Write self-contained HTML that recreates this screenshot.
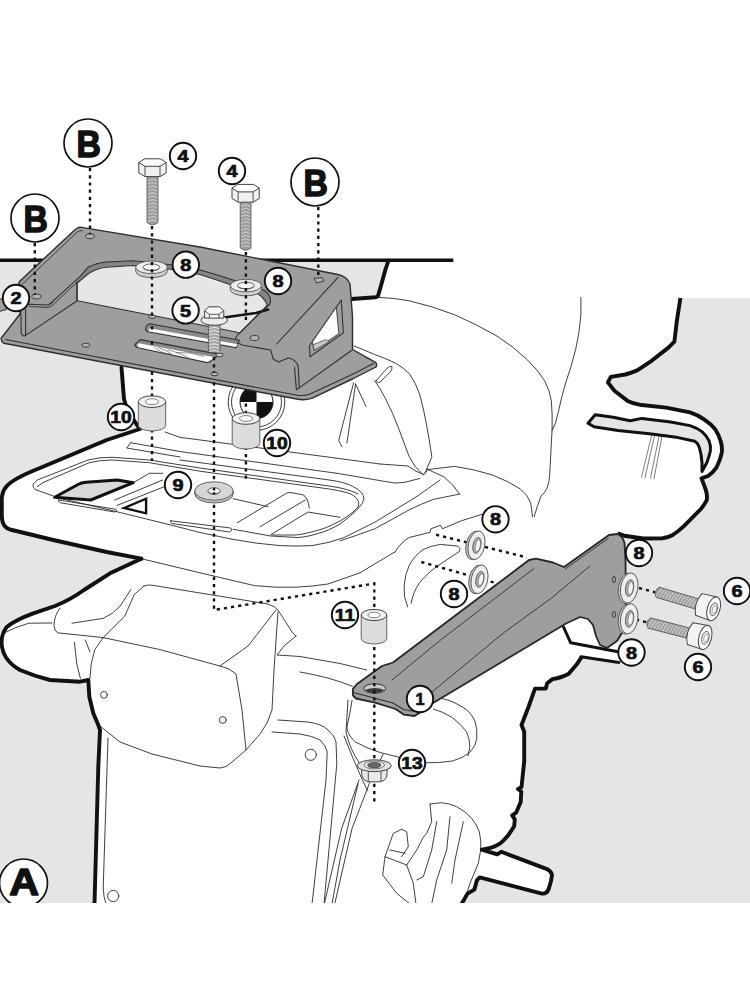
<!DOCTYPE html>
<html>
<head>
<meta charset="utf-8">
<title>Assembly diagram</title>
<style>
html,body{margin:0;padding:0;background:#fff;}
body{width:750px;height:1000px;overflow:hidden;font-family:"Liberation Sans",sans-serif;}
svg{display:block;position:absolute;left:0;top:0;}
.thk{fill:none;stroke:#111;stroke-width:3.9;stroke-linejoin:round;stroke-linecap:round;}
.thn{fill:none;stroke:#2a2a2a;stroke-width:0.9;stroke-linejoin:round;stroke-linecap:round;}
.med{fill:none;stroke:#1c1c1c;stroke-width:1.6;stroke-linejoin:round;stroke-linecap:round;}
.dot{fill:none;stroke:#111;stroke-width:2.4;stroke-dasharray:3.2 4;}
.lab circle{fill:#fff;stroke:#111;stroke-width:1.5;}
.lab text{font-family:"Liberation Sans",sans-serif;font-weight:bold;fill:#111;text-anchor:middle;}
.pl{fill:#8b8b8b;stroke:#303030;stroke-width:1.3;stroke-linejoin:round;}
.pln{fill:none;stroke:#303030;stroke-width:1.1;stroke-linejoin:round;stroke-linecap:round;}
</style>
</head>
<body>
<svg width="750" height="1000" viewBox="0 0 750 1000">
<defs>
<clipPath id="clipimg"><rect x="0" y="99" width="750" height="804"/></clipPath>
</defs>
<g clip-path="url(#clipimg)">

<!-- ===== GRAY BACKGROUND REGIONS ===== -->
<g id="bg">
<path fill="#e4e5e7" d="M0,260 L388.5,260 L385.3,270 Q381.5,284 378.3,295 Q377.8,297 375.5,297.3 L352,299 L270,310 L222,318 L121.5,367.5 L124,399 L127,409 L136,423.5 L140,429 L106.7,440 L40,468 Q12,479 6,487 Q1.8,492 1.8,500 L1.8,516 Q1.8,527 10,529.5 L53.3,540 L106.7,552 L141.3,558.7 L110,573.3 L84,590 Q70,600 55,606 L33.3,613.3 Q15,620 6.7,627 Q1.2,634 1.6,643.3 Q2,651 6,657.5 Q11,665 20,670 Q34,676 50,680 L80,681.7 L88.3,680 L89.3,696.7 L93.3,713.3 L98.3,725 L100,730 L98.3,766.7 L94.5,904 L0,904 Z"/>
<path fill="#e4e5e7" d="M680.4,298 L676.8,321.2 L674.4,341.6 L668.4,347.6 L651.6,360.8 L637.2,370.4 Q631,373 625.2,374.5 L610.8,376.9 L607.9,382.4 L614.4,390.8 L627.6,400.9 Q633,403.5 639.6,404.7 L666,407.6 L690,412.4 Q698,415 704.4,419.6 Q711,424 715.2,429.2 Q719,435 720.7,441.2 Q722.5,447 721.7,453.2 Q720,461 716.4,467.6 Q713,472.5 708,476 L701.5,478.4 L705.6,489.2 Q707.5,495 706.8,500 Q705,504 700.9,509 L683.9,526.1 Q678,531.5 673.2,534.7 Q668,537.6 662.5,538.3 L643.3,538.5 L624.1,535.7 L617.7,533.4 L619,655 L582.2,656.2 L576.8,664.3 L568.7,673.7 Q562,677.5 552.5,679.1 L547.1,683.2 L545.8,688.6 L535,688.6 L528.3,707.5 L521.5,725 L524.2,731.7 L524.2,761.4 L521.5,787.1 L518,789 L521.3,791.5 L520.7,801.9 L516.1,812.7 L512.2,815.4 L514.8,819.4 L514.2,826.2 L508,835.6 Q504,840.5 499.9,843.7 Q495,846.8 490.5,847.8 L481.8,849.6 L497.2,854.3 L501.3,851.8 L544.4,868.1 Q551,870 552,875 L551,881 L548.5,889.6 Q546.5,894.5 541,893.4 L479.7,877.4 L477,880.1 L474.3,889.6 L467.5,893.6 L461.5,904 L750,904 L750,298 Z"/>
</g>

<!-- ===== VEHICLE THIN LINES (filled in later) ===== -->
<g id="veh">
<!-- rack -->
<g id="rack">
<path class="thn" d="M141.3,558.7 L200,572.8 L254.4,585.6 Q275,588 296,587.2 Q312,586.5 328,584 L360,572.8 L392,553.6 L395,552"/>
<path class="thn" d="M130.7,442.7 L180,451.5 L337,473.3 L385.3,481.5 Q395,484 404,482.5 L419.7,478.5"/>
<path class="thn" d="M130.7,442.7 L126.7,448 L180,457 M165,432 L180,437.3 L380,464"/>
<path class="thn" d="M53.3,496 L34.7,489.3 Q32,486 33.3,484 L37.3,480 L88,460 Q100,457 112,457.3 L149.3,460 L200,468 L329,486 Q350,489 358,494"/>
<path class="thn" d="M37.3,486.7 L42.7,482.7 L89.3,462.7 Q100,460 112,460 L149.3,462.7 L200,471.2 L329.3,489 Q349,492 353.3,495.5 Q360,500 358.5,506 Q355,512 340,521 Q325,529 313.3,531.5 Q300,535 294.7,535 L272,535"/>
<path class="thn" d="M180,460 L329.3,480 Q345,482 353.3,486.7 Q364,492 364,499 Q363,507 340,524 Q328,531 318.7,533.3 Q305,537.5 297.3,537.5 L270.7,536 L233.3,529.3"/>
<path class="thn" d="M56,497.3 L116,511.5 L170,524.8 L200,532.5 L232,539.2 Q258,544 280,545.6 Q296,546.5 312,545.6 Q330,543 344,537.6 L376,521.6 L417.6,496 L440,480"/>
<path class="thn" d="M58.7,500 L116,509.3 Q118,511 114.7,512 L60,502.7 Q57.5,501 58.7,500 Z"/>
<path class="thn" d="M170.7,520.8 L230.7,528 Q233.5,530 229.3,532 L172,523.5 Q169.5,522 170.7,520.8 Z"/>
<path fill="#d9d9da" stroke="#111" stroke-width="3" stroke-linejoin="round" d="M54.7,497.3 L78,484.5 Q81,482.8 86,482.3 L117.3,480 L133.3,482.7 L90.7,500 Z"/>
<path fill="#fff" stroke="#111" stroke-width="2.4" stroke-linejoin="miter" d="M124,508 L146.1,498.7 L146.1,513.3 Z"/>
<path class="thn" d="M133.3,482.7 L149.3,473.3 L162.7,473.3 M114.7,500 L162.7,480 M117.3,505.3 L166,486"/>
<path class="thn" d="M233.3,498.7 L268,506.7 M237.3,522.7 L284,494.7 Q286,492.5 290,492.5 L302.7,494.7 Q308,497 309.3,508 M260,526.7 L305.3,500 M270.7,534.7 L308,512 L340,517.3"/>
</g>
<!-- wheel circle under plate -->
<g id="wheel">
<circle cx="256.5" cy="402" r="28.3" fill="#fff" stroke="#2a2a2a" stroke-width="0.9"/>
<circle cx="256.5" cy="402" r="25" fill="none" stroke="#2a2a2a" stroke-width="0.9"/>
<circle cx="256.5" cy="402" r="16.5" fill="#fff" stroke="#111" stroke-width="1"/>
<path fill="#111" d="M256.5,402 L240,402 A16.5,16.5 0 0 1 256.5,385.5 Z M256.5,402 L273,402 A16.5,16.5 0 0 1 256.5,418.5 Z"/>
</g>
<!-- seat / body upper -->
<g id="seat">
<path class="thn" d="M378,297.3 Q395,298 409.3,300.8 Q432,306 454.4,314.7 Q476,324 496,335.5 Q513,346 527.2,359.7 Q538,370 544.5,380.5 Q550,391 551.4,401.3 Q552.5,415 552.1,429 L549.7,474.8 Q549,490 541,496 Q537,507 534.1,516.7"/>
<path class="thn" d="M580.9,297.3 L580.9,314.7 Q579.5,333 575.7,349.3 Q571,368 565.3,384 Q561,399 558.4,411.7 Q556,424 552.1,430.8"/>
<path class="thn" d="M353.9,345.9 Q364,350 374.7,354.5 Q386,358.5 395.5,363.2 Q404,368 409.3,373.6 Q416,383 419.7,394.4 Q424,410 426.7,425.6 Q429.5,441 431.9,456.8 L424.9,473.3"/>
<path class="thn" d="M374.7,380.5 Q380,388 385.1,397.9 Q393,413 398.9,429 Q404,443 409.3,456.8 Q414,467 423.2,475"/>
<path class="thn" d="M376.4,380.5 L386.8,368.4 Q390,365.5 392,366.7 Q392.5,369 390.3,371.9 L379.9,382.3 Q377,383.5 376.4,380.5 Z"/>
<path class="thn" d="M355.6,384 L346.9,443 M355.6,384 L366,406.5 M353.6,382.8 L338.7,440.4 L341.9,446.8"/>
<path class="thn" d="M380,464 L408,466 L416,471.3 L424,474.5 L428,469.5 L454.4,466.4 Q474,469 492.5,475 Q508,481 520.3,488.9 Q528,495 530.6,502.8 Q532,510 532.4,516.7"/>
<path class="thn" d="M426.7,469 L444,476.8 Q454,485 459.6,494.1"/>
<path class="thn" d="M340,540.9 Q358,535 374.7,528.8 Q393,519 409.3,509.7 Q421,504 433.6,499.3 L459.6,494.1"/>
<path class="thn" d="M395,552 Q402,541 409.3,537.5 L430.1,532.3 L430.8,528.8 L440.5,525.3 L442.3,528.8 L461.3,520.8 L485.6,513.2"/>
<path class="thn" d="M407.6,606.8 Q403,596 404.1,586 Q405,574 409.3,565.2 Q415,555 423.2,549.6 Q431,545.5 440.5,544.4 L457.9,546.1 Q461,548 459.6,551.3 L444,561.7 Q430,570 419.7,582.5 Q413,592 411.1,603.3"/>
<!-- hook detail -->
<path class="thn" d="M652.2,433 L641.5,477 M655,433.5 L645,477.5 M659.5,434 L650.5,478.2 M662.3,434.5 L654,478.6" style="stroke-width:0.7;stroke:#444"/>
</g>
<!-- tail section -->
<g id="tail">
<path class="thn" d="M144,586 Q148,584.5 152,585.2 L268,604 Q275,606 278,610 L292,632 L296,636 M144,586 L134.4,594.4 L124.8,616 L103.2,637.6 L94.8,649.6 L91.2,664 L90,678.4 M103.2,637.6 L160,649.6 L220,666 Q230,668 236,674 L242,710 L246,750 M220,666 L248,646 L276,610 M278,612 L274,670 L272,710 Q268,724 260,734 L246,750 L232,762 Q226,768 220,768 L200,766 L152,754 L120,742 L100,726"/>
<circle cx="104" cy="694.8" r="3.4" class="thn"/><circle cx="222.8" cy="720" r="3.4" class="thn"/>
<path class="thn" d="M60,608 Q54,616 54,625.6 Q54.5,631 57.6,632.8 L103.2,637.6 M72,623.2 L103.2,618.4 Q113,614 120,606.4 L130.8,589.6 M4,633 Q15,627 28.8,623.2 L52,623 M74.4,642.4 L76.8,664 L80.4,678.4 M85.2,640 L90,652"/>
<path class="thn" d="M296,636 L284,646 L277,655 L300,656.5 L340,663.5 L366.7,670 M300,672 Q330,677 352.6,686.4"/>
<path class="thn" d="M108,738 L103.2,888 Q103.5,897 106,904"/>
<path class="thn" d="M278,720 L308,722 Q322,724 328,730 Q335,736 336,742 L336.8,764 L324,904 M272,732 L300,734 Q313,736 320,740 Q326,745 327.2,752 L326,780 L312,904"/>
<circle cx="310.8" cy="754.8" r="5.6" class="thn"/><circle cx="113.2" cy="896" r="5.6" class="thn"/>
<path class="thn" d="M348,700 L346,732 Q350,750 360,764 M358,784 L340,860 L332,904 M344,736 L352,755.9 L362.4,780 L367.6,790.5"/>
<path class="thn" d="M383.2,754 L369.3,783.6 L352,828.6 L334.7,904 M359,780 L341.6,828.6 L324.3,904"/>
</g>
<!-- turn signal + engine bits -->
<g id="lower">
<path class="thn" d="M352,700.4 L350.3,710.8 L346.8,728 Q349,737 355.5,742 Q366,748 379.7,752.4 Q400,758 424.8,762.8 Q440,763 452.5,761 Q463,758 469.8,752.4 Q476,746 476.8,738.5 Q477.5,729 475,721.2 Q471,712 462.9,707.3 Q456,703 449,700.4 L438.6,697.6"/>
<path class="thn" d="M433.4,709 Q444,712 452.5,717.7 Q461,724 466.4,731.6 Q470,739 469.8,747.2 L468,755.9"/>
<path class="thn" d="M430,804 L441.7,802.7 Q450,803.5 456.7,806.7 Q466,811.5 471.7,818.3 Q477,825 479.3,831.7 Q481.5,841 480.7,850 L478.3,863.3 L470,883.3 L463.3,904"/>
<path class="thn" d="M430,804 L431.7,821.7 L426.7,833.3 L423.3,837.3 L416.7,850 L406.7,865 L385,856.7 M401.7,829.3 L393.3,833.3 L385,856.7 L382.7,875 L396.7,893.3 L410,904 M401.7,829.3 L406.7,831.7 L408.3,846.7 L401.7,856.7 M390,850 L405,853.3 M406.7,865 L413.3,883.3 L416,904"/>
<path class="thn" d="M436.7,821.7 L431.7,850 L423.3,876.7 L416.7,880 M450,816.7 L446.7,850 L436.7,880 L431.7,904 M463.3,821.7 L455,860 L451.7,883.3"/>
</g>
</g>

<!-- ===== THICK OUTLINES ===== -->
<g id="thick">
<path class="thk" style="stroke-width:3.5;stroke-linecap:butt" d="M0,260.2 L453.3,260.2"/>
<path class="thk" d="M388.5,260.5 L385.3,270 Q381.5,284 378.3,295 Q377.8,297 375.5,297.3 L352,299"/>
<path class="thk" d="M270,310 L222,318"/>
<path class="thk" d="M121.5,367.5 L124,399 L127,409 L136,423.5 L140,429 L106.7,440 L40,468 Q12,479 6,487 Q1.8,492 1.8,500 L1.8,516 Q1.8,527 10,529.5 L53.3,540 L106.7,552 L141.3,558.7"/>
<path class="thk" d="M141.3,558.7 L110,573.3 L84,590 Q70,600 55,606 L33.3,613.3 Q15,620 6.7,627 Q1.2,634 1.6,643.3 Q2,651 6,657.5 Q11,665 20,670 Q34,676 50,680 L80,681.7 L88.3,680 L89.3,696.7 L93.3,713.3 L98.3,725 L100,730 L98.3,766.7 L94.5,904"/>
<path class="thk" style="stroke-linecap:butt" d="M680.4,298 L676.8,321.2 L674.4,341.6 L668.4,347.6 L651.6,360.8 L637.2,370.4 Q631,373 625.2,374.5 L610.8,376.9 L607.9,382.4 L614.4,390.8 L627.6,400.9 Q633,403.5 639.6,404.7 L666,407.6 L690,412.4 Q698,415 704.4,419.6 Q711,424 715.2,429.2 Q719,435 720.7,441.2 Q722.5,447 721.7,453.2 Q720,461 716.4,467.6 Q713,472.5 708,476 L701.5,478.4 L705.6,489.2 Q707.5,495 706.8,500 Q705,504 700.9,509 L683.9,526.1 Q678,531.5 673.2,534.7 Q668,537.6 662.5,538.3 L643.3,538.5 L624.1,535.7 L617.7,533.4"/>
<path class="thk" d="M582.2,656.2 L576.8,664.3 L568.7,673.7 Q562,677.5 552.5,679.1 L547.1,683.2 L545.8,688.6 L535,688.6 L528.3,707.5 L521.5,725 L524.2,731.7 L524.2,761.4 L521.5,787.1 L518,789 L521.3,791.5 L520.7,801.9 L516.1,812.7 L512.2,815.4 L514.8,819.4 L514.2,826.2 L508,835.6 Q504,840.5 499.9,843.7 Q495,846.8 490.5,847.8 L481.8,849.6 L497.2,854.3 L501.3,851.8 L544.4,868.1 Q551,870 552,875 L551,881 L548.5,889.6 Q546.5,894.5 541,893.4 L479.7,877.4 L477,880.1 L474.3,889.6 L467.5,893.6 L461.5,904"/>
<path fill="#e4e5e7" stroke="#111" stroke-width="3" stroke-linejoin="round" d="M588,423.2 L595.2,414.8 L613.2,417.2 L630,420.8 L642,418.4 L670.8,422 L690,425.6 Q697,428 702,431.6 Q707,436 709.2,441.2 Q711,446 710.4,450.8 Q709,457 706.8,462.8 L702,471.5 L702,462.8 Q701.5,455 699.6,448.4 Q698,443 694.8,441.2 L678,437.6 L651.6,434 L618,430.4 L594,426.8 Z"/>
<path fill="#fff" stroke="none" d="M563,628 L571,643 L619,652 L619,663 L581,657 Z"/>
<path class="thk" style="stroke-width:3" d="M563.5,627 L570.7,642.8 L618,651.8 M581,656.8 L619,662.4"/>
</g>

<!-- ===== PLATE ===== -->
<g id="plate">
<path fill="#9f9d9d" stroke="#333" stroke-width="1" stroke-linejoin="round" d="M-1,299.5 L4.5,298 L6.5,309.5 L-1,311.5 Z"/>
<!-- silhouette -->
<path fill="#9f9d9d" stroke="#2e2e2e" stroke-width="1.4" stroke-linejoin="round" d="M77.5,228 Q79,227 81.5,227.4 L200,247 L339,274.7 Q347,277 350,284 L352.5,317 L352.5,349.5 L375.5,362.3 Q377.5,364.5 376,367 L353.3,378.5 L312.3,398.1 Q305,400.5 298,399.3 L4,343.3 Q0.5,341 1.3,338 L20,314 L18.5,287 Q18,284 20,281 L74.7,230 Z"/>
<!-- opening -->
<path fill="#858484" d="M77.2,283 L80,276.7 L88,267.3 Q96,263 106.7,262 L133,260.7 L170.7,264.7 L200,270 L216.7,274.7 L262,289.3 Q268,292 270,297.3 Q271,301 270,304 L267.3,305.3 Q264,297 256.7,293.3 L216.7,280 L200,274.5 L170.7,269.2 L133,265.5 L106.7,267.3 Q96,268.5 88,274 Z"/>
<path class="pln" style="stroke-width:0.9" d="M22.5,284 L77.5,231.8 Q79.5,230.3 82,230.6"/>
<path fill="#e6e6e7" stroke="#333" stroke-width="1.1" stroke-linejoin="round" d="M77.2,300.8 L77.2,283 L88,274 Q96,268.5 106.7,267.3 L133,265.5 L170.7,269.2 L200,274.5 L216.7,280 L256.7,293.3 Q264,297 267.3,305.3 L256.7,316 L239.3,333.3 L236,332 L200,324.7 Z"/>
<!-- thick body curve seen through opening -->
<path class="thk" style="stroke-width:2.6" d="M224,317.5 L256,313 L268,309.5"/>
<!-- inner edge top line -->
<path class="pln" d="M49.5,304 Q52,302.5 53.5,300.7 L80,276.7 L88,267.3 Q96,263 106.7,262 L133,260.7 L170.7,264.7 L200,270 L216.7,274.7 L262,289.3 Q268,292 270,297.3 Q271,301 270,304 L256.7,316 L239.3,333.3 Q234,338 236,341 Q238,343.5 243.3,345.3 L270.7,350 L273.3,359.3 L278.7,362 L288,358 Q293,358.5 295.5,361.7 Q298,364 298.3,367.3 L299.2,387.9 L351.5,350.5 M294.5,367.3 L296.4,389.7 L299.2,387.9"/>
<!-- tab 2 bottom edge and wall -->
<path class="pln" d="M21.5,303 Q24,305.5 29.6,304.2 L48,305 Q51,304.5 52.8,301.8"/>
<path class="pln" style="stroke-width:0.9" d="M29.6,306.5 L48,307.4 Q52,306.5 54.4,303.4 L78.4,281"/>
<path class="pln" d="M20.8,311 L21.3,333.5 Q23,337 25.6,335.4 L25.6,309 M25.6,335.4 L76.8,301 L76.8,282"/>
<!-- lower plate back edge + front top line -->
<path class="pln" d="M5.3,339.5 L296,395 Q303,396.3 309,394.5 L352,374.5 L373.5,363.5"/>
<!-- fold line of right arm -->
<path class="pln" d="M338,277.3 L276.7,344"/>
<!-- slots -->
<path fill="#8a8989" stroke="#333" stroke-width="1.1" stroke-linejoin="round" d="M145.6,328.5 Q146,325 149.9,323.8 L239.5,340.2 L237.5,344 L236.3,347.7 L147.7,331.7 Q145.2,330.5 145.6,328.5 Z"/>
<path fill="#fbfbfb" d="M149.5,328.2 L237.6,344.3 L236.1,347.1 L148.5,331.3 Z"/>
<path fill="#8a8989" stroke="#333" stroke-width="1.1" stroke-linejoin="round" d="M134.9,344.5 L140.3,339.6 L216,353.6 Q219,356 213.9,358.3 Q211,361.5 207.5,362.6 L138.1,347.7 Q134.5,346.5 134.9,344.5 Z"/>
<path fill="#fbfbfb" d="M138.6,343.2 L214.6,357.3 Q211,360.8 207.5,362 L138.4,347.2 Q136.5,345.5 138.6,343.2 Z"/>
<path fill="none" stroke="#666" stroke-width="0.7" d="M154,346.8 Q160,353 172,354.5 M158,347.5 Q168,350 174,356.2 M176,352.5 Q190,351.5 204,356.5 M168,349.8 Q184,354.5 190,358.8"/>
<!-- small holes -->
<ellipse cx="85.9" cy="345.2" rx="4" ry="2" fill="#b5b5b5" stroke="#333" stroke-width="0.9"/>
<ellipse cx="152" cy="316.7" rx="3.6" ry="1.8" fill="#b5b5b5" stroke="#333" stroke-width="0.9"/>
<ellipse cx="214.5" cy="374" rx="3.6" ry="1.8" fill="#b5b5b5" stroke="#333" stroke-width="0.9"/>
<ellipse cx="219.5" cy="355" rx="3.6" ry="1.8" fill="#c8c8c8" stroke="#333" stroke-width="0.9"/>
<ellipse cx="90" cy="236.3" rx="4.4" ry="2.4" fill="#b0b0b0" stroke="#333" stroke-width="0.9"/>
<ellipse cx="36.5" cy="296.5" rx="4.6" ry="2.4" fill="#b0b0b0" stroke="#333" stroke-width="0.9"/>
<ellipse cx="254.5" cy="338" rx="4.4" ry="2.6" fill="#b0b0b0" stroke="#333" stroke-width="0.9"/>
<path fill="#b0b0b0" stroke="#333" stroke-width="0.9" d="M314,278.5 L322,277.5 L324,281 L316.5,283 Z"/>
<!-- triangle cutout -->
<path fill="#9f9d9d" stroke="#333" stroke-width="1.1" stroke-linejoin="round" d="M341.3,300 L343.3,332.7 L310,356.7 L309.3,346 Z"/>
<path fill="#fdfdfd" stroke="#333" stroke-width="0.9" stroke-linejoin="round" d="M336.3,307.2 L338.9,333.6 L314.3,350.3 L312.3,342 Z"/>
<path fill="#c9c9c9" stroke="#333" stroke-width="0.7" stroke-linejoin="round" d="M313,344.8 L326,339.5 L328.7,342 L314.3,350.3 Z"/>
</g>

<!-- ===== BRACKET ===== -->
<g id="bracket">
<path fill="#9f9d9d" stroke="#262626" stroke-width="1.8" stroke-linejoin="round" d="M352.8,689 L357,684 L382,666 L393,662.5 L460,612 L529,560 L536,558.7 L553,562.5 L564,567 L609,535 L617,534 Q623,536 624.5,543 L625.5,561 L626,600 L625,628 L617,641 L607,648 L600,645 L596,636 L593,625 L588,619 L580,617 L566,623.5 L500,663 L433,703 L420,712.5 L414.5,716 L403.8,714.6 L395.5,709 L375,702.6 L356,698.5 L353,695.5 Z"/>
<path class="pln" style="stroke-width:0.9" d="M392,680 L440,640.5 L534,568.5 M565.5,568.8 L608,538.6"/>
<path class="pln" style="stroke-width:0.9" d="M432,692 L504,632.5 L551,598.4 L590,566"/>
<path class="pln" d="M353.3,692.5 L393,703 L404,709.8 L414,711.3 L433,700"/>
<ellipse cx="374.7" cy="688.5" rx="11" ry="4.7" fill="#c9c9c9" stroke="#333" stroke-width="1"/>
<path fill="#3a3a3a" d="M365,690 Q374.7,686 384.5,690 Q380,693.2 374.7,693.2 Q369,693.2 365,690 Z"/>
<ellipse cx="614" cy="579.5" rx="1.6" ry="3.2" fill="none" stroke="#333" stroke-width="0.9"/>
<ellipse cx="614" cy="614.5" rx="1.6" ry="3.2" fill="none" stroke="#333" stroke-width="0.9"/>
</g>

<!--DOTS-START-->
<g id="hw0">
<!-- washers 8 on plate -->
<path fill="#cfcfcf" stroke="#555" stroke-width="0.9" d="M135.7,267.3 L135.7,271.3 A15.8,6.3 0 0 0 167.3,271.3 L167.3,267.3 Z"/>
<ellipse cx="151.5" cy="267.3" rx="15.8" ry="6.3" fill="#ececec" stroke="#555" stroke-width="0.9"/>
<ellipse cx="151.5" cy="267.3" rx="8.4" ry="3.4" fill="#f7f7f7" stroke="#555" stroke-width="0.9"/>
<path fill="none" stroke="#555" stroke-width="0.8" d="M143.9,268.5 A8.4,3.4 0 0 0 159.1,268.5"/>
<path fill="#cfcfcf" stroke="#555" stroke-width="0.9" d="M230.3,285.6 L230.3,289.6 A15.6,6.3 0 0 0 261.5,289.6 L261.5,285.6 Z"/>
<ellipse cx="245.9" cy="285.6" rx="15.6" ry="6.3" fill="#ececec" stroke="#555" stroke-width="0.9"/>
<ellipse cx="245.9" cy="285.6" rx="8.4" ry="3.4" fill="#f7f7f7" stroke="#555" stroke-width="0.9"/>
<path fill="none" stroke="#555" stroke-width="0.8" d="M238.3,286.8 A8.4,3.4 0 0 0 253.5,286.8"/>
</g>
<g id="dots">
<path class="dot" d="M90,168 L90,234"/>
<path class="dot" d="M34.8,243 L34.8,295"/>
<path class="dot" d="M318.3,207 L318.3,277"/>
<path class="dot" d="M152,226 L152,316.5 M152,326.3 L152,330.5 M152,341.5 L152,348.3 M152,371.8 L152,461"/>
<path class="dot" d="M245.9,252 L245.9,324 M245.9,389.2 L245.9,481"/>
<path class="dot" d="M214,357 L214,373 M214,382.4 L214,610 L374.3,583.5 L374.3,802"/>
<path class="dot" d="M436,534.7 L527,557.5"/>
<path class="dot" d="M421.3,562 L495,582.8"/>
<path class="dot" d="M639,588 L655,592.3"/>
<path class="dot" d="M636,619.7 L647,622.3"/>
</g>
<!--DOTS-END-->

<!--HW-START-->
<g id="hw">
<!-- bolt 4 a -->
<path fill="#9c9c9c" stroke="#555" stroke-width="0.8" d="M147,175.6 L147,222.5 Q152.5,227 158,222.5 L158,175.6 Z"/>
<path fill="none" stroke="#c9c9c9" stroke-width="1.1" d="M147.8,180.7 L152.5,179.1 L157.2,180.7"/>
<path fill="none" stroke="#c9c9c9" stroke-width="1.1" d="M147.8,184.1 L152.5,182.5 L157.2,184.1"/>
<path fill="none" stroke="#c9c9c9" stroke-width="1.1" d="M147.8,187.5 L152.5,185.9 L157.2,187.5"/>
<path fill="none" stroke="#c9c9c9" stroke-width="1.1" d="M147.8,190.9 L152.5,189.3 L157.2,190.9"/>
<path fill="none" stroke="#c9c9c9" stroke-width="1.1" d="M147.8,194.3 L152.5,192.7 L157.2,194.3"/>
<path fill="none" stroke="#c9c9c9" stroke-width="1.1" d="M147.8,197.7 L152.5,196.1 L157.2,197.7"/>
<path fill="none" stroke="#c9c9c9" stroke-width="1.1" d="M147.8,201.1 L152.5,199.5 L157.2,201.1"/>
<path fill="none" stroke="#c9c9c9" stroke-width="1.1" d="M147.8,204.5 L152.5,202.9 L157.2,204.5"/>
<path fill="none" stroke="#c9c9c9" stroke-width="1.1" d="M147.8,207.9 L152.5,206.3 L157.2,207.9"/>
<path fill="none" stroke="#c9c9c9" stroke-width="1.1" d="M147.8,211.3 L152.5,209.7 L157.2,211.3"/>
<path fill="none" stroke="#c9c9c9" stroke-width="1.1" d="M147.8,214.7 L152.5,213.1 L157.2,214.7"/>
<path fill="none" stroke="#c9c9c9" stroke-width="1.1" d="M147.8,218.1 L152.5,216.5 L157.2,218.1"/>
<path fill="none" stroke="#c9c9c9" stroke-width="1.1" d="M147.8,221.5 L152.5,219.9 L157.2,221.5"/>
<path fill="#f1f1f1" stroke="#444" stroke-width="1" stroke-linejoin="round" d="M138.8,162.5 L138.8,172.9 L145,176.6 L160,176.6 L166.2,172.9 L166.2,162.5 Z"/>
<path fill="#fbfbfb" stroke="#444" stroke-width="1" stroke-linejoin="round" d="M138.8,162.5 L144.6,158.8 L160.4,158.8 L166.2,162.5 L160,166.3 L145,166.3 Z"/>
<path fill="none" stroke="#444" stroke-width="0.9" d="M145,166.3 L145,176.6 M160,166.3 L160,176.6"/>
<!-- bolt 4 b -->
<path fill="#9c9c9c" stroke="#555" stroke-width="0.8" d="M240.2,201.2 L240.2,248 Q245.6,252.5 251,248 L251,201.2 Z"/>
<path fill="none" stroke="#c9c9c9" stroke-width="1.1" d="M241,206.3 L245.6,204.7 L250.2,206.3"/>
<path fill="none" stroke="#c9c9c9" stroke-width="1.1" d="M241,209.7 L245.6,208.1 L250.2,209.7"/>
<path fill="none" stroke="#c9c9c9" stroke-width="1.1" d="M241,213.1 L245.6,211.5 L250.2,213.1"/>
<path fill="none" stroke="#c9c9c9" stroke-width="1.1" d="M241,216.5 L245.6,214.9 L250.2,216.5"/>
<path fill="none" stroke="#c9c9c9" stroke-width="1.1" d="M241,219.9 L245.6,218.3 L250.2,219.9"/>
<path fill="none" stroke="#c9c9c9" stroke-width="1.1" d="M241,223.3 L245.6,221.7 L250.2,223.3"/>
<path fill="none" stroke="#c9c9c9" stroke-width="1.1" d="M241,226.7 L245.6,225.1 L250.2,226.7"/>
<path fill="none" stroke="#c9c9c9" stroke-width="1.1" d="M241,230.1 L245.6,228.5 L250.2,230.1"/>
<path fill="none" stroke="#c9c9c9" stroke-width="1.1" d="M241,233.5 L245.6,231.9 L250.2,233.5"/>
<path fill="none" stroke="#c9c9c9" stroke-width="1.1" d="M241,236.9 L245.6,235.3 L250.2,236.9"/>
<path fill="none" stroke="#c9c9c9" stroke-width="1.1" d="M241,240.3 L245.6,238.7 L250.2,240.3"/>
<path fill="none" stroke="#c9c9c9" stroke-width="1.1" d="M241,243.7 L245.6,242.1 L250.2,243.7"/>
<path fill="none" stroke="#c9c9c9" stroke-width="1.1" d="M241,247.1 L245.6,245.5 L250.2,247.1"/>
<path fill="#f1f1f1" stroke="#444" stroke-width="1" stroke-linejoin="round" d="M232,188.1 L232,198.5 L238.1,202.2 L253.1,202.2 L259.2,198.5 L259.2,188.1 Z"/>
<path fill="#fbfbfb" stroke="#444" stroke-width="1" stroke-linejoin="round" d="M232,188.1 L237.7,184.4 L253.5,184.4 L259.2,188.1 L253.1,191.9 L238.1,191.9 Z"/>
<path fill="none" stroke="#444" stroke-width="0.9" d="M238.1,191.9 L238.1,202.2 M253.1,191.9 L253.1,202.2"/>
<!-- bolt 5 -->
<path fill="#a4a4a4" stroke="#555" stroke-width="0.8" d="M208.4,324.1 L208.4,350.5 Q214.2,355 220,350.5 L220,324.1 Z"/>
<path fill="none" stroke="#dcdcdc" stroke-width="1.1" d="M209.2,328.6 L214.2,327.1 L219.2,328.6"/>
<path fill="none" stroke="#dcdcdc" stroke-width="1.1" d="M209.2,331.9 L214.2,330.4 L219.2,331.9"/>
<path fill="none" stroke="#dcdcdc" stroke-width="1.1" d="M209.2,335.2 L214.2,333.7 L219.2,335.2"/>
<path fill="none" stroke="#dcdcdc" stroke-width="1.1" d="M209.2,338.5 L214.2,337 L219.2,338.5"/>
<path fill="none" stroke="#dcdcdc" stroke-width="1.1" d="M209.2,341.8 L214.2,340.3 L219.2,341.8"/>
<path fill="none" stroke="#dcdcdc" stroke-width="1.1" d="M209.2,345.1 L214.2,343.6 L219.2,345.1"/>
<path fill="none" stroke="#dcdcdc" stroke-width="1.1" d="M209.2,348.4 L214.2,346.9 L219.2,348.4"/>
<path fill="none" stroke="#dcdcdc" stroke-width="1.1" d="M209.2,351.7 L214.2,350.2 L219.2,351.7"/>
<ellipse cx="214.2" cy="320.1" rx="13.3" ry="5.2" fill="#ececec" stroke="#444" stroke-width="1"/>
<path fill="#f6f6f6" stroke="#444" stroke-width="1" stroke-linejoin="round" d="M204.6,310.8 L208.9,306.8 L219.5,306.8 L223.8,310.8 L223.8,318.1 L204.6,318.1 Z"/>
<path fill="none" stroke="#444" stroke-width="0.9" d="M204.6,310.8 L209.4,314.3 L219,314.3 L223.8,310.8 M209.4,314.3 L209.4,318.1 M219,314.3 L219,318.1"/>
<!-- washer 9 -->
<path fill="#bdbdbd" stroke="#555" stroke-width="0.9" d="M194.7,491 L194.7,493.8 A19.3,9.2 0 0 0 233.3,493.8 L233.3,491 Z"/>
<ellipse cx="214" cy="491" rx="19.3" ry="9.2" fill="#d6d6d6" stroke="#555" stroke-width="0.9"/>
<ellipse cx="214" cy="491" rx="6.2" ry="3.3" fill="#f7f7f7" stroke="#555" stroke-width="0.9"/>
<path fill="none" stroke="#555" stroke-width="0.8" d="M208.6,492.2 A6.2,3.3 0 0 0 219.4,492.2"/>
<rect x="212.8" y="487.8" width="2.4" height="2.6" fill="#111"/><rect x="212.8" y="492.4" width="2.4" height="2" fill="#111"/>
<!-- spacers -->
<path fill="#dcdcdc" stroke="#555" stroke-width="0.9" d="M138.3,401.7 L138.3,425.2 A13.7,5.8 0 0 0 165.7,425.2 L165.7,401.7 Z"/>
<ellipse cx="152" cy="401.7" rx="13.7" ry="5.8" fill="#f1f1f1" stroke="#444" stroke-width="1"/>
<ellipse cx="152" cy="401.7" rx="6.6" ry="2.9" fill="#fdfdfd" stroke="#666" stroke-width="0.8"/>
<path fill="#dcdcdc" stroke="#555" stroke-width="0.9" d="M232.2,418.5 L232.2,443.2 A13.8,5.8 0 0 0 259.8,443.2 L259.8,418.5 Z"/>
<ellipse cx="246" cy="418.5" rx="13.8" ry="5.8" fill="#f1f1f1" stroke="#444" stroke-width="1"/>
<ellipse cx="246" cy="418.5" rx="6.6" ry="2.9" fill="#fdfdfd" stroke="#666" stroke-width="0.8"/>
<path fill="#dcdcdc" stroke="#555" stroke-width="0.9" d="M361.2,615 L361.2,638.4 A12.8,5.6 0 0 0 386.8,638.4 L386.8,615 Z"/>
<ellipse cx="374" cy="615" rx="12.8" ry="5.6" fill="#f1f1f1" stroke="#444" stroke-width="1"/>
<ellipse cx="374" cy="615" rx="6.1" ry="2.8" fill="#fdfdfd" stroke="#666" stroke-width="0.8"/>
<!-- nut 13 -->
<path fill="#e9e9e9" stroke="#444" stroke-width="1" stroke-linejoin="round" d="M361.3,768 L362,776 Q363,780.5 368,781.8 L380.5,781.8 Q385.8,780.5 386.8,776 L387.3,768 Z"/>
<path fill="none" stroke="#444" stroke-width="0.9" d="M368.3,771 L368.3,781.6 M381,771 L381,781.6"/>
<ellipse cx="374.3" cy="765.7" rx="17" ry="5.9" fill="#e2e2e2" stroke="#444" stroke-width="1"/>
<ellipse cx="374.3" cy="765" rx="10.2" ry="3.9" fill="#f2f2f2" stroke="#555" stroke-width="0.8"/>
<ellipse cx="374.3" cy="765.2" rx="6.6" ry="2.6" fill="#6a6a6a" stroke="#333" stroke-width="0.8"/>
<!-- washers 8 mid -->
<g transform="rotate(12 476.5 545.3)">
<ellipse cx="474.3" cy="545.9" rx="8.2" ry="14.5" fill="#c9c9c9" stroke="#555" stroke-width="0.9"/>
<ellipse cx="476.5" cy="545.3" rx="8.2" ry="14.5" fill="#eeeeee" stroke="#555" stroke-width="0.9"/>
<ellipse cx="476.9" cy="545.3" rx="3.9" ry="8" fill="#b5b5b5" stroke="#555" stroke-width="0.9"/>
<ellipse cx="477.9" cy="545.3" rx="2.5" ry="6.1" fill="#f4f4f4" stroke="#666" stroke-width="0.7"/>
</g>
<g transform="rotate(12 479.5 579.3)">
<ellipse cx="477.3" cy="579.9" rx="8.2" ry="14.5" fill="#c9c9c9" stroke="#555" stroke-width="0.9"/>
<ellipse cx="479.5" cy="579.3" rx="8.2" ry="14.5" fill="#eeeeee" stroke="#555" stroke-width="0.9"/>
<ellipse cx="479.9" cy="579.3" rx="3.9" ry="8" fill="#b5b5b5" stroke="#555" stroke-width="0.9"/>
<ellipse cx="480.9" cy="579.3" rx="2.5" ry="6.1" fill="#f4f4f4" stroke="#666" stroke-width="0.7"/>
</g>
<!-- washers 8 right -->
<g transform="rotate(9 629.2 588)">
<ellipse cx="627" cy="588.6" rx="8.6" ry="15.2" fill="#c9c9c9" stroke="#555" stroke-width="0.9"/>
<ellipse cx="629.2" cy="588" rx="8.6" ry="15.2" fill="#eeeeee" stroke="#555" stroke-width="0.9"/>
<ellipse cx="629.6" cy="588" rx="4" ry="8.4" fill="#b5b5b5" stroke="#555" stroke-width="0.9"/>
<ellipse cx="630.6" cy="588" rx="2.6" ry="6.4" fill="#f4f4f4" stroke="#666" stroke-width="0.7"/>
</g>
<g transform="rotate(9 629.2 618.8)">
<ellipse cx="627" cy="619.4" rx="8.6" ry="15.2" fill="#c9c9c9" stroke="#555" stroke-width="0.9"/>
<ellipse cx="629.2" cy="618.8" rx="8.6" ry="15.2" fill="#eeeeee" stroke="#555" stroke-width="0.9"/>
<ellipse cx="629.6" cy="618.8" rx="4" ry="8.4" fill="#b5b5b5" stroke="#555" stroke-width="0.9"/>
<ellipse cx="630.6" cy="618.8" rx="2.6" ry="6.4" fill="#f4f4f4" stroke="#666" stroke-width="0.7"/>
</g>
<!-- bolts 6 -->
<g transform="translate(655.7 591.7) rotate(16.5)">
<path fill="#9f9f9f" stroke="#555" stroke-width="0.8" d="M2,-5.3 Q-2.5,0 2,5.3 L43.9,5.3 L43.9,-5.3 Z"/>
<path fill="none" stroke="#d2d2d2" stroke-width="1" d="M5.2,-4.6 Q2.4,0 1.8,4.6"/>
<path fill="none" stroke="#d2d2d2" stroke-width="1" d="M8.3,-4.6 Q5.5,0 4.9,4.6"/>
<path fill="none" stroke="#d2d2d2" stroke-width="1" d="M11.4,-4.6 Q8.6,0 8,4.6"/>
<path fill="none" stroke="#d2d2d2" stroke-width="1" d="M14.5,-4.6 Q11.7,0 11.1,4.6"/>
<path fill="none" stroke="#d2d2d2" stroke-width="1" d="M17.6,-4.6 Q14.8,0 14.2,4.6"/>
<path fill="none" stroke="#d2d2d2" stroke-width="1" d="M20.7,-4.6 Q17.9,0 17.3,4.6"/>
<path fill="none" stroke="#d2d2d2" stroke-width="1" d="M23.8,-4.6 Q21,0 20.4,4.6"/>
<path fill="none" stroke="#d2d2d2" stroke-width="1" d="M26.9,-4.6 Q24.1,0 23.5,4.6"/>
<path fill="none" stroke="#d2d2d2" stroke-width="1" d="M30,-4.6 Q27.2,0 26.6,4.6"/>
<path fill="none" stroke="#d2d2d2" stroke-width="1" d="M33.1,-4.6 Q30.3,0 29.7,4.6"/>
<path fill="none" stroke="#d2d2d2" stroke-width="1" d="M36.2,-4.6 Q33.4,0 32.8,4.6"/>
<path fill="none" stroke="#d2d2d2" stroke-width="1" d="M39.3,-4.6 Q36.5,0 35.9,4.6"/>
<path fill="none" stroke="#d2d2d2" stroke-width="1" d="M42.4,-4.6 Q39.6,0 39,4.6"/>
<path fill="#f3f3f3" stroke="#444" stroke-width="1" stroke-linejoin="round" d="M44.9,-11.3 Q39.4,0 44.9,11.3 L60.4,12.3 L60.4,-12.3 Z"/>
<ellipse cx="60.4" cy="0" rx="6.3" ry="12.3" fill="#fbfbfb" stroke="#444" stroke-width="1"/>
<ellipse cx="60.7" cy="0.3" rx="3.6" ry="6.6" fill="#ededed" stroke="#555" stroke-width="0.8"/>
<ellipse cx="61.3" cy="0.3" rx="2.1" ry="4.1" fill="#fafafa" stroke="#777" stroke-width="0.6"/>
</g>
<g transform="translate(647.3 622.5) rotate(14.5)">
<path fill="#9f9f9f" stroke="#555" stroke-width="0.8" d="M2,-5.3 Q-2.5,0 2,5.3 L43.3,5.3 L43.3,-5.3 Z"/>
<path fill="none" stroke="#d2d2d2" stroke-width="1" d="M5.2,-4.6 Q2.4,0 1.8,4.6"/>
<path fill="none" stroke="#d2d2d2" stroke-width="1" d="M8.3,-4.6 Q5.5,0 4.9,4.6"/>
<path fill="none" stroke="#d2d2d2" stroke-width="1" d="M11.4,-4.6 Q8.6,0 8,4.6"/>
<path fill="none" stroke="#d2d2d2" stroke-width="1" d="M14.5,-4.6 Q11.7,0 11.1,4.6"/>
<path fill="none" stroke="#d2d2d2" stroke-width="1" d="M17.6,-4.6 Q14.8,0 14.2,4.6"/>
<path fill="none" stroke="#d2d2d2" stroke-width="1" d="M20.7,-4.6 Q17.9,0 17.3,4.6"/>
<path fill="none" stroke="#d2d2d2" stroke-width="1" d="M23.8,-4.6 Q21,0 20.4,4.6"/>
<path fill="none" stroke="#d2d2d2" stroke-width="1" d="M26.9,-4.6 Q24.1,0 23.5,4.6"/>
<path fill="none" stroke="#d2d2d2" stroke-width="1" d="M30,-4.6 Q27.2,0 26.6,4.6"/>
<path fill="none" stroke="#d2d2d2" stroke-width="1" d="M33.1,-4.6 Q30.3,0 29.7,4.6"/>
<path fill="none" stroke="#d2d2d2" stroke-width="1" d="M36.2,-4.6 Q33.4,0 32.8,4.6"/>
<path fill="none" stroke="#d2d2d2" stroke-width="1" d="M39.3,-4.6 Q36.5,0 35.9,4.6"/>
<path fill="none" stroke="#d2d2d2" stroke-width="1" d="M42.4,-4.6 Q39.6,0 39,4.6"/>
<path fill="#f3f3f3" stroke="#444" stroke-width="1" stroke-linejoin="round" d="M44.3,-11.3 Q38.8,0 44.3,11.3 L59.8,12.3 L59.8,-12.3 Z"/>
<ellipse cx="59.8" cy="0" rx="6.3" ry="12.3" fill="#fbfbfb" stroke="#444" stroke-width="1"/>
<ellipse cx="60.1" cy="0.3" rx="3.6" ry="6.6" fill="#ededed" stroke="#555" stroke-width="0.8"/>
<ellipse cx="60.7" cy="0.3" rx="2.1" ry="4.1" fill="#fafafa" stroke="#777" stroke-width="0.6"/>
</g>
</g>
<!--HW-END-->

<!--LABELS-START-->
<g id="labels" class="lab">
<g><circle cx="88" cy="143" r="24" style="stroke-width:1.7"/><text transform="translate(88.6 156.5) scale(0.9 1)" x="0" y="0" font-size="37.5" stroke="#111" stroke-width="1.5" stroke-linejoin="round">B</text></g>
<g><circle cx="35" cy="218" r="24" style="stroke-width:1.7"/><text transform="translate(35.6 231.5) scale(0.9 1)" x="0" y="0" font-size="37.5" stroke="#111" stroke-width="1.5" stroke-linejoin="round">B</text></g>
<g><circle cx="315" cy="182" r="24" style="stroke-width:1.7"/><text transform="translate(315.6 195.5) scale(0.9 1)" x="0" y="0" font-size="37.5" stroke="#111" stroke-width="1.5" stroke-linejoin="round">B</text></g>
<g><circle cx="23.5" cy="883" r="24" style="stroke-width:1.7"/><text transform="translate(24.1 895.4) scale(1.1 1)" x="0" y="0" font-size="37.5" stroke="#111" stroke-width="1.5" stroke-linejoin="round">A</text></g>
<g><circle cx="183" cy="156" r="13.2" style="stroke-width:1.9"/><text transform="translate(183 162.1) scale(1.22 1)" x="0" y="0" font-size="16.3" stroke="#111" stroke-width="0.7" stroke-linejoin="round">4</text></g>
<g><circle cx="232" cy="171" r="13.2" style="stroke-width:1.9"/><text transform="translate(232 177.1) scale(1.22 1)" x="0" y="0" font-size="16.3" stroke="#111" stroke-width="0.7" stroke-linejoin="round">4</text></g>
<g><circle cx="185.8" cy="264.7" r="13.2" style="stroke-width:1.9"/><text transform="translate(185.8 270.8) scale(1.22 1)" x="0" y="0" font-size="16.3" stroke="#111" stroke-width="0.7" stroke-linejoin="round">8</text></g>
<g><circle cx="278" cy="281" r="13.2" style="stroke-width:1.9"/><text transform="translate(278 287.1) scale(1.22 1)" x="0" y="0" font-size="16.3" stroke="#111" stroke-width="0.7" stroke-linejoin="round">8</text></g>
<g><circle cx="185.6" cy="310.4" r="13.2" style="stroke-width:1.9"/><text transform="translate(185.6 316.5) scale(1.22 1)" x="0" y="0" font-size="16.3" stroke="#111" stroke-width="0.7" stroke-linejoin="round">5</text></g>
<g><circle cx="16" cy="298" r="13.2" style="stroke-width:1.9"/><text transform="translate(16 304.1) scale(1.22 1)" x="0" y="0" font-size="16.3" stroke="#111" stroke-width="0.7" stroke-linejoin="round">2</text></g>
<g><circle cx="121" cy="417" r="13.2" style="stroke-width:1.9"/><text transform="translate(121 423.1) scale(1.18 1)" x="0" y="0" font-size="16.3" stroke="#111" stroke-width="0.7" stroke-linejoin="round">10</text></g>
<g><circle cx="277" cy="443" r="13.2" style="stroke-width:1.9"/><text transform="translate(277 449.1) scale(1.18 1)" x="0" y="0" font-size="16.3" stroke="#111" stroke-width="0.7" stroke-linejoin="round">10</text></g>
<g><circle cx="178" cy="485" r="13.2" style="stroke-width:1.9"/><text transform="translate(178 491.1) scale(1.22 1)" x="0" y="0" font-size="16.3" stroke="#111" stroke-width="0.7" stroke-linejoin="round">9</text></g>
<g><circle cx="345" cy="615" r="13.2" style="stroke-width:1.9"/><text transform="translate(345 621.1) scale(1.18 1)" x="0" y="0" font-size="16.3" stroke="#111" stroke-width="0.7" stroke-linejoin="round">11</text></g>
<g><circle cx="412" cy="763" r="13.2" style="stroke-width:1.9"/><text transform="translate(412 769.1) scale(1.18 1)" x="0" y="0" font-size="16.3" stroke="#111" stroke-width="0.7" stroke-linejoin="round">13</text></g>
<g><circle cx="420" cy="699" r="13.2" style="stroke-width:1.9"/><text transform="translate(420 705.1) scale(1.0 1)" x="0" y="0" font-size="16.3" stroke="#111" stroke-width="0.7" stroke-linejoin="round">1</text></g>
<g><circle cx="495.5" cy="519.3" r="13.2" style="stroke-width:1.9"/><text transform="translate(495.5 525.4) scale(1.22 1)" x="0" y="0" font-size="16.3" stroke="#111" stroke-width="0.7" stroke-linejoin="round">8</text></g>
<g><circle cx="454" cy="594" r="13.2" style="stroke-width:1.9"/><text transform="translate(454 600.1) scale(1.22 1)" x="0" y="0" font-size="16.3" stroke="#111" stroke-width="0.7" stroke-linejoin="round">8</text></g>
<g><circle cx="639" cy="553" r="13.2" style="stroke-width:1.9"/><text transform="translate(639 559.1) scale(1.22 1)" x="0" y="0" font-size="16.3" stroke="#111" stroke-width="0.7" stroke-linejoin="round">8</text></g>
<g><circle cx="631.5" cy="652.5" r="13.2" style="stroke-width:1.9"/><text transform="translate(631.5 658.6) scale(1.22 1)" x="0" y="0" font-size="16.3" stroke="#111" stroke-width="0.7" stroke-linejoin="round">8</text></g>
<g><circle cx="737" cy="591" r="13.2" style="stroke-width:1.9"/><text transform="translate(737 597.1) scale(1.22 1)" x="0" y="0" font-size="16.3" stroke="#111" stroke-width="0.7" stroke-linejoin="round">6</text></g>
<g><circle cx="698" cy="667" r="13.2" style="stroke-width:1.9"/><text transform="translate(698 673.1) scale(1.22 1)" x="0" y="0" font-size="16.3" stroke="#111" stroke-width="0.7" stroke-linejoin="round">6</text></g>
</g>
<!--LABELS-END-->

</g>
</svg>
</body>
</html>
